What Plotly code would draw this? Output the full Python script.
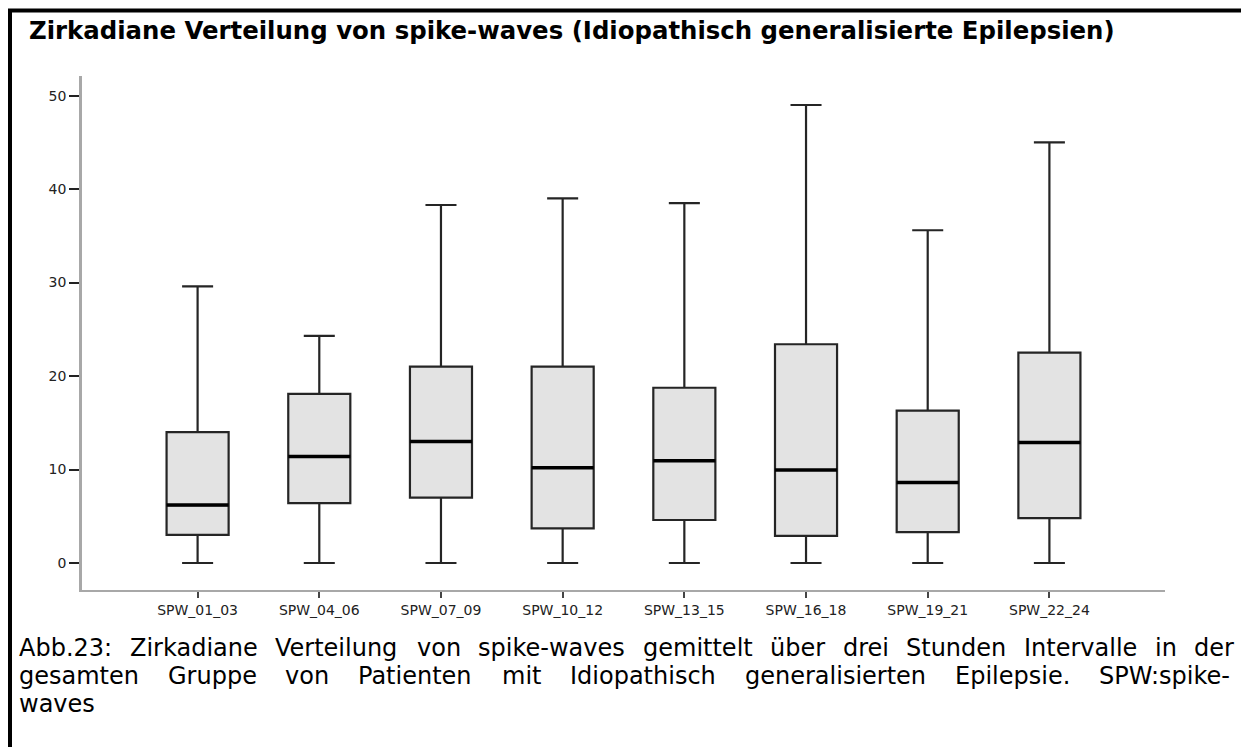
import plotly.graph_objects as go

# values
categories = ["SPW_01_03", "SPW_04_06", "SPW_07_09", "SPW_10_12",
              "SPW_13_15", "SPW_16_18", "SPW_19_21", "SPW_22_24"]
lower_whisker = [0, 0, 0, 0, 0, 0, 0, 0]
q1 = [3.0, 6.4, 7.0, 3.7, 4.6, 2.9, 3.3, 4.8]
median = [6.2, 11.4, 13.0, 10.2, 10.95, 9.95, 8.6, 12.9]
q3 = [14.0, 18.1, 21.0, 21.0, 18.75, 23.4, 16.3, 22.5]
upper_whisker = [29.6, 24.3, 38.3, 39.0, 38.5, 49.0, 35.6, 45.0]
y_ticks = [0, 10, 20, 30, 40, 50]

title = "Zirkadiane Verteilung von spike-waves (Idiopathisch generalisierte Epilepsien)"
caption_lines = [
    "Abb.23: Zirkadiane Verteilung von spike-waves gemittelt über drei Stunden Intervalle in der",
    "gesamten Gruppe von Patienten mit Idiopathisch generalisierten Epilepsie. SPW:spike-",
    "waves",
]

# the page body adds an 8px margin, so the figure is 8px smaller and shifted
OFF = 8
W, H = 1241, 739
L, R, T, B = 74, 84, 68, 157
BOX_W = 0.51

# window pixel -> paper helpers
def px(x):
    return (x - OFF - L) / (W - L - R)

def py(y):
    return (H - B - (y - OFF)) / (H - T - B)

# rough DejaVu Sans advance widths (per 1000 em), used to justify the caption
ADV = {" ": 318, "a": 613, "b": 635, "c": 550, "d": 635, "e": 615, "f": 352, "g": 635,
       "h": 634, "i": 278, "k": 579, "l": 278, "m": 974, "n": 634, "o": 612, "p": 635,
       "r": 411, "s": 521, "t": 392, "u": 634, "v": 592, "w": 818, "ü": 634, "A": 684,
       "E": 632, "G": 775, "I": 295, "P": 603, "S": 635, "V": 684, "W": 989, "Z": 685,
       ".": 318, ":": 337, "-": 361}

def justified(words, x0, x1, size):
    widths = [sum(ADV.get(c, 636) for c in w) * size / 1000 for w in words]
    gap = (x1 - x0 - sum(widths)) / (len(words) - 1)
    xs, x = [], x0
    for w in widths:
        xs.append(x)
        x += w + gap
    return xs

pos = list(range(len(categories)))

fig = go.Figure()
fig.add_trace(go.Box(
    x=pos, q1=q1, median=median, q3=q3,
    lowerfence=lower_whisker, upperfence=upper_whisker,
    width=BOX_W, whiskerwidth=0.5, boxpoints=False,
    fillcolor="#e3e3e3", line=dict(color="#252525", width=2.2),
    showlegend=False, hoverinfo="skip",
))

# thicker median bars on top of the boxes
mx, my = [], []
for i, m in zip(pos, median):
    mx += [i - BOX_W / 2, i + BOX_W / 2, None]
    my += [m, m, None]
fig.add_trace(go.Scatter(x=mx, y=my, mode="lines", line=dict(color="#000", width=3.5),
                         showlegend=False, hoverinfo="skip"))

annotations = [dict(text="<b>" + title + "</b>", x=px(27), y=py(30), xref="paper", yref="paper",
                    xanchor="left", yanchor="middle", showarrow=False,
                    font=dict(family="DejaVu Sans", size=24.4, color="#000"))]

cap_size = 24
cap_y = [648, 676, 704]
cap_right = [1232, 1230]
for k, line in enumerate(caption_lines):
    words = line.split(" ")
    if k < len(cap_right):
        xs = justified(words, 17, cap_right[k], cap_size)
    else:
        xs = [17]
        words = [line]
    for w, x in zip(words, xs):
        annotations.append(dict(text=w, x=px(x), y=py(cap_y[k]), xref="paper", yref="paper",
                                xanchor="left", yanchor="middle", showarrow=False,
                                font=dict(family="DejaVu Sans", size=cap_size, color="#000")))

fig.update_layout(
    width=W, height=H,
    margin=dict(l=L, r=R, t=T, b=B),
    paper_bgcolor="white", plot_bgcolor="white",
    font=dict(family="DejaVu Sans", color="#222"),
    xaxis=dict(range=[-0.95, 7.95], tickvals=pos, ticktext=categories,
               showline=True, linecolor="#a8a8a8", linewidth=2,
               ticks="outside", ticklen=6, tickwidth=2, tickcolor="#444",
               showgrid=False, zeroline=False, tickfont=dict(size=14, color="#222")),
    yaxis=dict(range=[-2.89, 52.1], tickvals=y_ticks,
               showline=True, linecolor="#a8a8a8", linewidth=2.5,
               ticks="outside", ticklen=10, tickwidth=2, tickcolor="#222",
               showgrid=False, zeroline=False, tickfont=dict(size=14, color="#222")),
    annotations=annotations,
    shapes=[dict(type="rect", xref="paper", yref="paper",
                 x0=px(10), x1=px(1245.5), y0=py(10.5), y1=py(790),
                 line=dict(color="#000", width=4))],
)

fig.write_html("out.html")
